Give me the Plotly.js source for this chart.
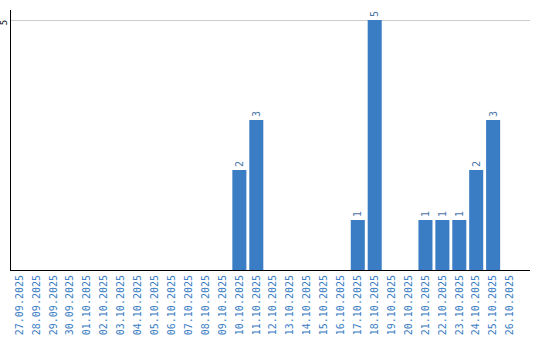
<!DOCTYPE html>
<html><head><meta charset="utf-8">
<script src="https://cdn.plot.ly/plotly-3.0.1.min.js"></script>
<style>html,body{margin:0;padding:0;background:#fff}#c{width:540px;height:340px}</style>
</head><body><div id="c"></div>
<script>
const dates = ["27.09.2025","28.09.2025","29.09.2025","30.09.2025","01.10.2025","02.10.2025","03.10.2025","04.10.2025","05.10.2025","06.10.2025","07.10.2025","08.10.2025","09.10.2025","10.10.2025","11.10.2025","12.10.2025","13.10.2025","14.10.2025","15.10.2025","16.10.2025","17.10.2025","18.10.2025","19.10.2025","20.10.2025","21.10.2025","22.10.2025","23.10.2025","24.10.2025","25.10.2025","26.10.2025"];
const counts = [0,0,0,0,0,0,0,0,0,0,0,0,0,2,3,0,0,0,0,0,1,5,0,0,1,1,1,2,3,0];
const labels = counts.map(v => v > 0 ? String(v) : "");
Plotly.newPlot("c", [{
  type: "bar", x: dates, y: counts, text: labels, texttemplate: "%{text}",
  textposition: "outside", textangle: -90, cliponaxis: false,
  textfont: {family: "DejaVu Sans Mono", size: 10, color: "#4a74a8"},
  marker: {color: "#3b7dc4"}, hoverinfo: "none"
}], {
  width: 540, height: 340, margin: {l: 11, r: 10, t: 10, b: 70},
  paper_bgcolor: "#fff", plot_bgcolor: "#fff", showlegend: false, bargap: 0.17,
  xaxis: {type: "category", range: [-0.5, 30.18], tickangle: -90, showline: true, linecolor: "#000", linewidth: 1,
    tickfont: {family: "DejaVu Sans Mono", size: 10, color: "#3a7dc4"}, ticks: "", showgrid: false, zeroline: false, fixedrange: true},
  yaxis: {range: [0, 5.2], tickvals: [5], ticktext: ["5"], tickangle: -90, showline: true, linecolor: "#000", linewidth: 1,
    tickfont: {family: "DejaVu Sans Mono", size: 9, color: "#000"}, ticks: "", gridcolor: "#cccccc", zeroline: false,
    ticklabelstandoff: -1, ticklabelshift: 4}
}, {staticPlot: true, displayModeBar: false});
</script></body></html>
